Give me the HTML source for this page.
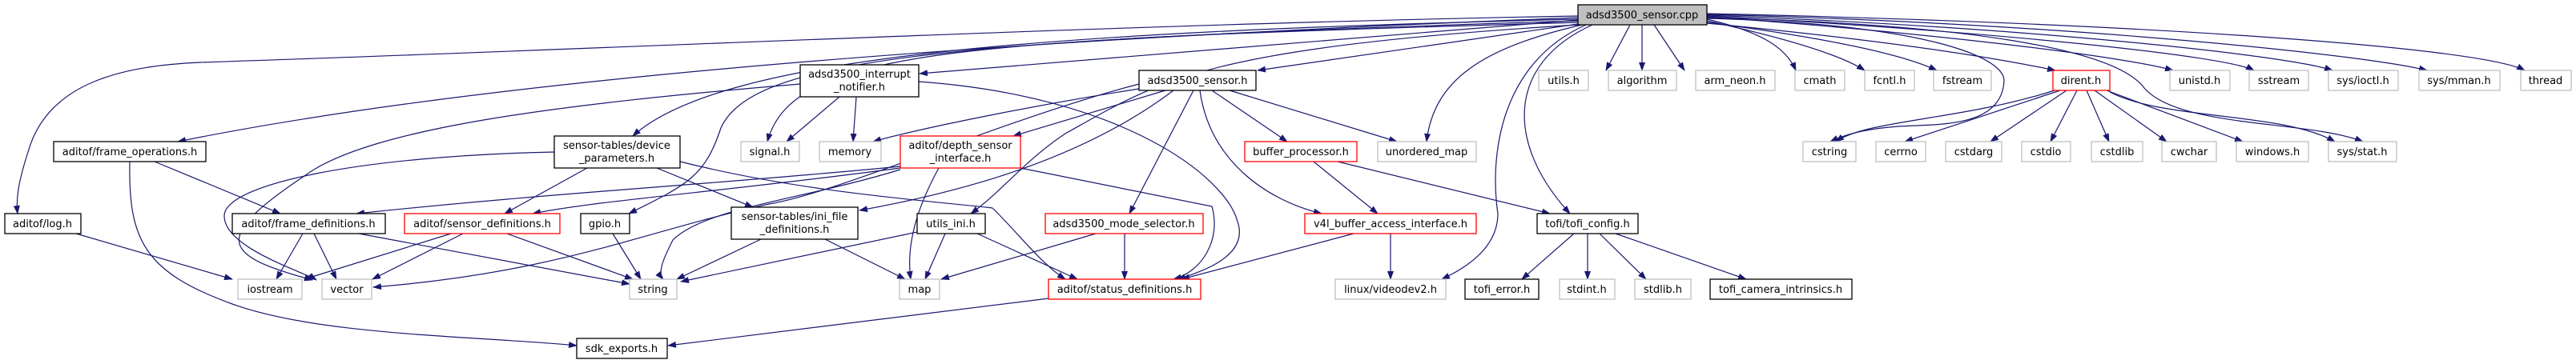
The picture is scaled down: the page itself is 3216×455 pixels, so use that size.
<!DOCTYPE html>
<html><head><meta charset="utf-8"><style>
html,body{margin:0;padding:0;background:#fff;width:3216px;height:455px;overflow:hidden}
svg text{font-family:"DejaVu Sans","Liberation Sans",sans-serif;font-size:13px;fill:#000;text-anchor:middle}
.e{fill:none;stroke:#191970;stroke-width:1.2}
.g{fill:#fff;stroke:#bfbfbf;stroke-width:1.3}
.b{fill:#fff;stroke:#000;stroke-width:1.3}
.r{fill:#fff;stroke:#ff0000;stroke-width:1.3}
</style></head><body>
<svg width="3216" height="455" viewBox="0 0 3216 455" xmlns="http://www.w3.org/2000/svg">
<defs><marker id="a" markerWidth="11" markerHeight="8" refX="10" refY="4" orient="auto" markerUnits="userSpaceOnUse"><path d="M0,0 L11,4 L0,8 z" fill="#191970"/></marker></defs>
<g class="e" marker-end="url(#a)">
<path d="M1970,20 C1400,30 800,60 250,78 C160,82 60,100 35,190 C22,230 20,250 22,267"/>
<path d="M1970,22 C1500,40 700,80 222,177"/>
<path d="M1970,24 C1300,40 900,70 790,170"/>
<path d="M1970,26 C1200,50 940,70 900,160 C880,220 860,230 785,267"/>
<path d="M1970,28 C1200,50 990,60 958,177"/>
<path d="M1970,25 L1148,92"/>
<path d="M1970,30 L1570,88"/>
<path d="M1970,31 C1500,60 1450,100 1330,167 C1280,200 1250,240 1212,267"/>
<path d="M1975,31 C1850,60 1790,100 1781,177"/>
<path d="M1980,31 C1870,80 1860,200 1870,267 C1870,310 1830,335 1800,349"/>
<path d="M1988,31 C1880,80 1880,180 1960,267"/>
<path d="M2035,31 L2005,88"/>
<path d="M2050,31 L2050,88"/>
<path d="M2065,31 L2103,88"/>
<path d="M2131,24 C2200,40 2230,60 2242,88"/>
<path d="M2131,26 C2240,50 2300,70 2328,88"/>
<path d="M2131,28 C2300,50 2380,70 2418,88"/>
<path d="M2131,29 C2350,50 2480,70 2566,88"/>
<path d="M2131,21 C2400,40 2650,70 2713,88"/>
<path d="M2131,20 C2500,40 2780,70 2814,88"/>
<path d="M2131,19 C2550,35 2860,70 2912,88"/>
<path d="M2131,18 C2600,30 2960,70 3030,88"/>
<path d="M2131,17 C2700,30 3100,60 3152,88"/>
<path d="M2131,23 C2400,30 2500,70 2502,100 C2500,160 2420,155 2370,158 C2320,162 2300,170 2285,177"/>
<path d="M2131,22 C2450,30 2640,60 2677,110 C2720,160 2880,150 2950,177"/>
<path d="M1048,121 L982,177"/>
<path d="M1069,121 L1065,177"/>
<path d="M999,105 C700,130 460,160 380,220 C260,300 280,320 390,350"/>
<path d="M1147,102 C1400,120 1530,220 1545,277 C1560,320 1500,340 1470,349"/>
<path d="M1422,111 C1300,130 1150,160 1090,177"/>
<path d="M1455,113 L1265,170"/>
<path d="M1465,113 C1350,200 1200,240 1073,263"/>
<path d="M1490,113 L1410,267"/>
<path d="M1498,113 C1510,200 1580,250 1650,267"/>
<path d="M1513,113 L1607,177"/>
<path d="M1535,113 L1744,177"/>
<path d="M1422,105 C1250,150 1050,240 960,255 C800,290 700,340 466,359"/>
<path d="M1124,208 C900,230 700,240 445,267"/>
<path d="M1124,210 C900,240 750,250 665,267"/>
<path d="M1124,212 C1000,250 880,260 840,300 C830,320 820,340 828,349"/>
<path d="M1172,210 C1150,250 1130,300 1137,349"/>
<path d="M1274,210 L1513,258 C1525,300 1500,340 1465,349"/>
<path d="M692,190 C450,195 280,230 280,270 C280,310 380,340 395,350"/>
<path d="M733,210 L630,267"/>
<path d="M820,210 L940,259"/>
<path d="M849,202 C1000,240 1150,250 1239,260 C1270,290 1300,330 1330,349"/>
<path d="M193,202 L350,267"/>
<path d="M162,202 C160,300 180,340 290,380 C400,420 600,420 720,432"/>
<path d="M95,292 L290,349"/>
<path d="M378,292 L345,349"/>
<path d="M392,292 L420,349"/>
<path d="M448,292 L786,355"/>
<path d="M563,292 L380,349"/>
<path d="M578,292 L465,349"/>
<path d="M633,292 L790,349"/>
<path d="M765,292 L800,349"/>
<path d="M950,299 L845,349"/>
<path d="M1030,299 L1130,349"/>
<path d="M1145,290 L850,352"/>
<path d="M1180,292 L1155,349"/>
<path d="M1220,292 L1345,349"/>
<path d="M1368,292 L1175,349"/>
<path d="M1404,292 L1404,349"/>
<path d="M1690,292 L1475,349"/>
<path d="M1736,292 L1736,349"/>
<path d="M1640,202 L1720,267"/>
<path d="M1670,202 L1935,267"/>
<path d="M1965,292 L1900,349"/>
<path d="M1982,292 L1982,349"/>
<path d="M1997,292 L2055,349"/>
<path d="M2017,292 L2180,349"/>
<path d="M1309,373 L834,432"/>
<path d="M2565,113 C2450,150 2330,150 2292,177"/>
<path d="M2572,113 L2378,177"/>
<path d="M2580,113 L2485,177"/>
<path d="M2593,113 L2560,177"/>
<path d="M2605,113 L2633,177"/>
<path d="M2615,113 L2705,177"/>
<path d="M2630,113 L2800,177"/>
<path d="M2634,115 C2700,150 2850,140 2915,177"/>
</g>
<g>
<rect class="b" x="1970" y="6" width="161" height="25" style="fill:#bfbfbf"/><text x="2050" y="23">adsd3500_sensor.cpp</text>
<rect class="b" x="999" y="81" width="148" height="40"/><text x="1073" y="97">adsd3500_interrupt</text><text x="1073" y="113">_notifier.h</text>
<rect class="b" x="1422" y="88" width="146" height="25"/><text x="1495" y="105">adsd3500_sensor.h</text>
<rect class="g" x="1921" y="88" width="62" height="25"/><text x="1952" y="105">utils.h</text>
<rect class="g" x="2008" y="88" width="85" height="25"/><text x="2050" y="105">algorithm</text>
<rect class="g" x="2117" y="88" width="99" height="25"/><text x="2166" y="105">arm_neon.h</text>
<rect class="g" x="2241" y="88" width="62" height="25"/><text x="2272" y="105">cmath</text>
<rect class="g" x="2328" y="88" width="62" height="25"/><text x="2359" y="105">fcntl.h</text>
<rect class="g" x="2414" y="88" width="72" height="25"/><text x="2450" y="105">fstream</text>
<rect class="r" x="2563" y="88" width="71" height="25"/><text x="2598" y="105">dirent.h</text>
<rect class="g" x="2709" y="88" width="75" height="25"/><text x="2746" y="105">unistd.h</text>
<rect class="g" x="2808" y="88" width="74" height="25"/><text x="2845" y="105">sstream</text>
<rect class="g" x="2907" y="88" width="87" height="25"/><text x="2950" y="105">sys/ioctl.h</text>
<rect class="g" x="3020" y="88" width="101" height="25"/><text x="3070" y="105">sys/mman.h</text>
<rect class="g" x="3147" y="88" width="63" height="25"/><text x="3178" y="105">thread</text>
<rect class="b" x="67" y="177" width="190" height="25"/><text x="162" y="194">aditof/frame_operations.h</text>
<rect class="b" x="692" y="170" width="157" height="40"/><text x="770" y="186">sensor-tables/device</text><text x="770" y="202">_parameters.h</text>
<rect class="g" x="925" y="177" width="73" height="25"/><text x="961" y="194">signal.h</text>
<rect class="g" x="1023" y="177" width="77" height="25"/><text x="1061" y="194">memory</text>
<rect class="r" x="1124" y="170" width="150" height="40"/><text x="1199" y="186">aditof/depth_sensor</text><text x="1199" y="202">_interface.h</text>
<rect class="r" x="1554" y="177" width="140" height="25"/><text x="1624" y="194">buffer_processor.h</text>
<rect class="g" x="1720" y="177" width="123" height="25"/><text x="1781" y="194">unordered_map</text>
<rect class="g" x="2251" y="177" width="66" height="25"/><text x="2284" y="194">cstring</text>
<rect class="g" x="2342" y="177" width="62" height="25"/><text x="2373" y="194">cerrno</text>
<rect class="g" x="2429" y="177" width="70" height="25"/><text x="2464" y="194">cstdarg</text>
<rect class="g" x="2524" y="177" width="61" height="25"/><text x="2554" y="194">cstdio</text>
<rect class="g" x="2611" y="177" width="64" height="25"/><text x="2643" y="194">cstdlib</text>
<rect class="g" x="2699" y="177" width="68" height="25"/><text x="2733" y="194">cwchar</text>
<rect class="g" x="2792" y="177" width="90" height="25"/><text x="2837" y="194">windows.h</text>
<rect class="g" x="2907" y="177" width="85" height="25"/><text x="2949" y="194">sys/stat.h</text>
<rect class="b" x="6" y="267" width="95" height="25"/><text x="53" y="284">aditof/log.h</text>
<rect class="b" x="290" y="267" width="191" height="25"/><text x="385" y="284">aditof/frame_definitions.h</text>
<rect class="r" x="505" y="267" width="194" height="25"/><text x="602" y="284">aditof/sensor_definitions.h</text>
<rect class="b" x="725" y="267" width="61" height="25"/><text x="755" y="284">gpio.h</text>
<rect class="b" x="913" y="259" width="158" height="40"/><text x="992" y="275">sensor-tables/ini_file</text><text x="992" y="291">_definitions.h</text>
<rect class="b" x="1145" y="267" width="85" height="25"/><text x="1187" y="284">utils_ini.h</text>
<rect class="r" x="1305" y="267" width="197" height="25"/><text x="1403" y="284">adsd3500_mode_selector.h</text>
<rect class="r" x="1629" y="267" width="214" height="25"/><text x="1736" y="284">v4l_buffer_access_interface.h</text>
<rect class="b" x="1919" y="267" width="126" height="25"/><text x="1982" y="284">tofi/tofi_config.h</text>
<rect class="g" x="297" y="349" width="80" height="25"/><text x="337" y="366">iostream</text>
<rect class="g" x="402" y="349" width="62" height="25"/><text x="433" y="366">vector</text>
<rect class="g" x="786" y="349" width="59" height="25"/><text x="815" y="366">string</text>
<rect class="g" x="1123" y="349" width="50" height="25"/><text x="1148" y="366">map</text>
<rect class="r" x="1309" y="349" width="190" height="25"/><text x="1404" y="366">aditof/status_definitions.h</text>
<rect class="g" x="1667" y="349" width="138" height="25"/><text x="1736" y="366">linux/videodev2.h</text>
<rect class="b" x="1829" y="349" width="92" height="25"/><text x="1875" y="366">tofi_error.h</text>
<rect class="g" x="1947" y="349" width="69" height="25"/><text x="1981" y="366">stdint.h</text>
<rect class="g" x="2041" y="349" width="70" height="25"/><text x="2076" y="366">stdlib.h</text>
<rect class="b" x="2135" y="349" width="177" height="25"/><text x="2223" y="366">tofi_camera_intrinsics.h</text>
<rect class="b" x="720" y="423" width="113" height="25"/><text x="776" y="440">sdk_exports.h</text>
</g>
</svg>
</body></html>
